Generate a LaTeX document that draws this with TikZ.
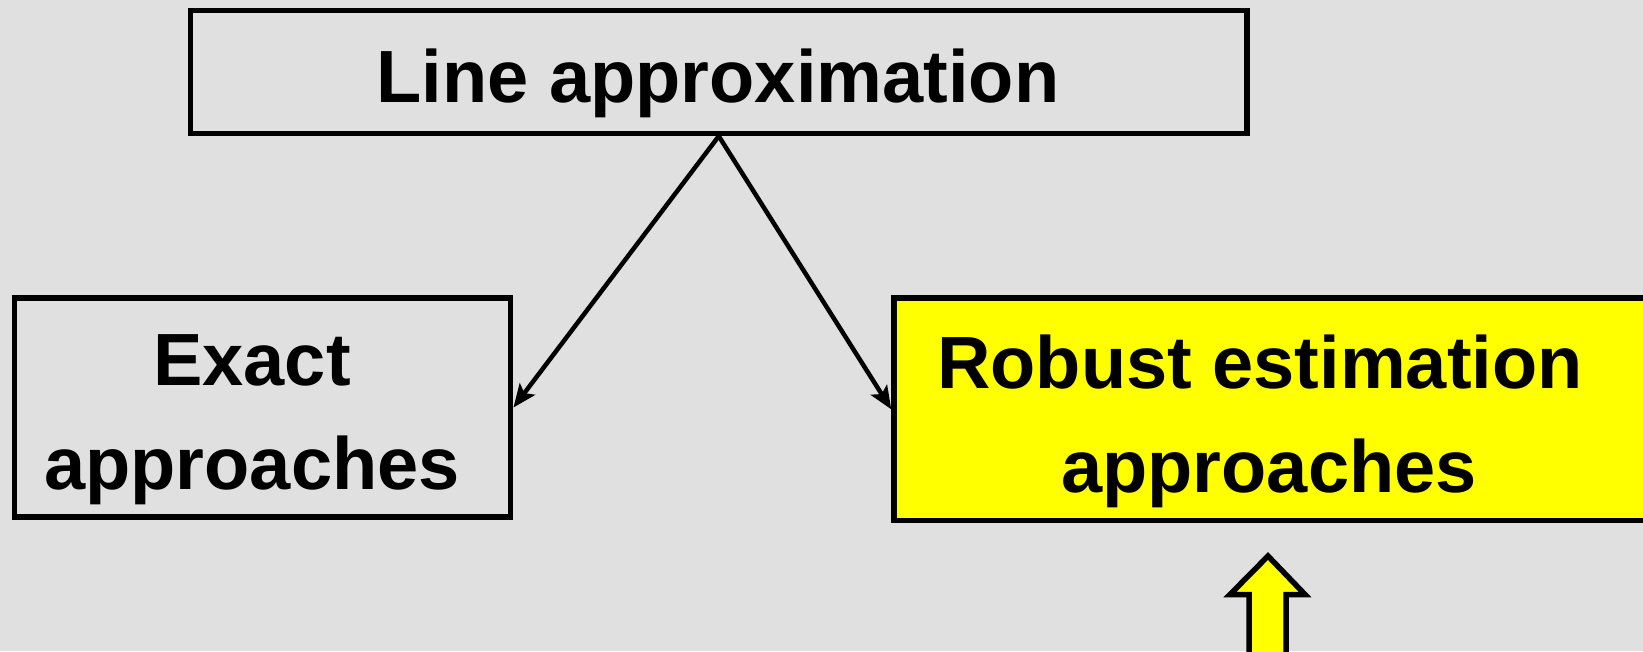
\documentclass[tikz,border=0pt]{standalone}
\usepackage{fontspec}
\setmainfont{Liberation Sans}
\usetikzlibrary{arrows.meta}
\definecolor{bggrey}{HTML}{E0E0E0}
\definecolor{boxyellow}{HTML}{FFFF00}
\begin{document}
\begin{tikzpicture}[x=1pt,y=-1pt,
  box/.style={draw=black,line width=5.5pt,rectangle,inner sep=0pt},
  lbl/.style={font=\fontsize{74}{104}\selectfont\bfseries,inner sep=0pt,anchor=base},
  conn/.style={line width=4.5pt,-{Stealth[length=23pt,width=19pt,inset=5pt]}}]
\fill[bggrey] (0,0) rectangle (1643,651);
\useasboundingbox (0,0) rectangle (1643,651);
\begin{scope}
\clip (0,0) rectangle (1643,651);
% boxes
\node[box,minimum width=1056.5pt,minimum height=123pt] (top) at (718.75,71.9) {};
\node[box,minimum width=496pt,minimum height=219pt] (left) at (262.7,407.5) {};
\node[box,fill=boxyellow,minimum width=766pt,minimum height=222.5pt] (right) at (1277,409.3) {};
% texts
\node[lbl] (t1) at (718,102) {Line approximation};
\node[lbl] (l1) at (252,385) {Exact};
\node[lbl] (l2) at (252,489) {approaches};
\node[lbl] (r1) at (1260,388) {Robust estimation};
\node[lbl] (r2) at (1269,492) {approaches};
% connectors
\draw[conn] (top.south) -- (left.east);
\draw[conn] (top.south) -- (right.west);
% block arrow
\draw[line width=5.5pt,fill=boxyellow,line join=miter]
  (1268,556) -- (1305,594.5) -- (1286,594.5) -- (1286,670) -- (1249,670) -- (1249,594.5) -- (1230,594.5) -- cycle;
\end{scope}
\end{tikzpicture}
\end{document}
